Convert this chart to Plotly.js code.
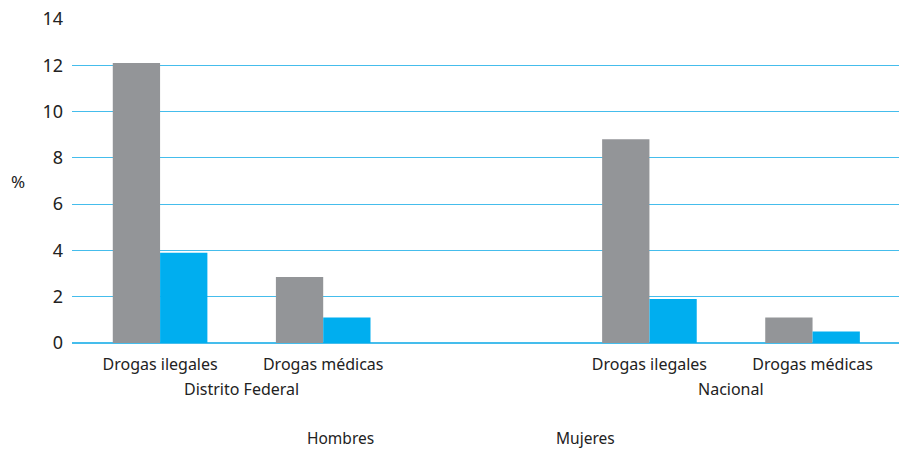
<!DOCTYPE html>
<html>
<head>
<meta charset="utf-8">
<script src="https://cdn.plot.ly/plotly-3.0.1.min.js"></script>
<style>
  html, body { margin: 0; padding: 0; background: #ffffff; }
  #chart { width: 899px; height: 451px; }
</style>
</head>
<body>
<div id="chart"></div>
<script>
// ---- Data ----
const regions = ["Distrito Federal", "Nacional"];
const drugTypes = ["Drogas ilegales", "Drogas médicas"];
const seriesNames = ["Hombres", "Mujeres"];
const hombres = [12.1, 2.85, 8.8, 1.1];   // DF ilegales, DF médicas, Nac ilegales, Nac médicas
const mujeres = [3.9, 1.1, 1.9, 0.5];
const yTicks = [0, 2, 4, 6, 8, 10, 12, 14];

// ---- Build categories (with an empty slot between regions) ----
const keys = [];
const tickText = [];
const gapKey = "gap";
const allKeys = [];
regions.forEach((r, ri) => {
  drugTypes.forEach(d => {
    const k = r + " | " + d;
    keys.push(k);
    tickText.push(d);
    allKeys.push(k);
  });
  if (ri < regions.length - 1) allKeys.push(gapKey);
});

const colors = ["#939598", "#00aeef"];
const values = [hombres, mujeres];

const traces = seriesNames.map((name, i) => ({
  type: "bar",
  name: name,
  x: keys,
  y: values[i],
  marker: { color: colors[i], line: { width: 0 } },
  hoverinfo: "x+y+name"
}));

const font = "'Noto Sans', 'Open Sans', sans-serif";
const plotL = 72, plotW = 899 - 72;

// Region labels centered under each pair
const annotations = [];
regions.forEach((r, ri) => {
  const first = allKeys.indexOf(r + " | " + drugTypes[0]);
  const last = allKeys.indexOf(r + " | " + drugTypes[drugTypes.length - 1]);
  annotations.push({
    x: (first + last) / 2, xref: "x", xanchor: "center",
    y: 0, yref: "paper",
    yshift: -46, yanchor: "middle",
    text: r, showarrow: false,
    font: { family: font, size: 16, color: "#222" }
  });
});
// Legend-like labels (text only, as in the reference)
const legendPx = [340, 585];
seriesNames.forEach((n, i) => {
  annotations.push({
    x: (legendPx[i] - plotL) / plotW, xref: "paper", xanchor: "center",
    y: 0, yref: "paper",
    yshift: -95, yanchor: "middle",
    text: n, showarrow: false,
    font: { family: font, size: 15.5, color: "#222" }
  });
});
// % label
annotations.push({
  x: (18 - plotL) / plotW, xref: "paper", xanchor: "center",
  y: 0.5, yref: "paper", yanchor: "middle",
  text: "%", showarrow: false,
  font: { family: font, size: 17, color: "#222" }
});

const layout = {
  width: 899,
  height: 451,
  margin: { l: plotL, r: 0, t: 19, b: 108, autoexpand: false },
  paper_bgcolor: "#ffffff",
  plot_bgcolor: "#ffffff",
  showlegend: false,
  barmode: "group",
  bargap: 0.42,
  bargroupgap: 0,
  font: { family: font, size: 16, color: "#222" },
  xaxis: {
    type: "category",
    categoryorder: "array",
    categoryarray: allKeys,
    tickvals: keys,
    ticktext: tickText,
    range: [-0.54, 4.53],
    automargin: false,
    showgrid: false,
    zeroline: false,
    showline: false,
    ticks: "",
    ticklabelstandoff: 10,
    tickfont: { family: font, size: 16, color: "#222" }
  },
  yaxis: {
    range: [0, 14],
    tickvals: yTicks,
    automargin: false,
    showgrid: true,
    gridcolor: "#45bdec",
    gridwidth: 1,
    zeroline: true,
    zerolinecolor: "#45bdec",
    zerolinewidth: 1.5,
    showline: false,
    ticks: "",
    ticklabelstandoff: 8,
    tickfont: { family: font, size: 18, color: "#222" },
    fixedrange: true
  },
  annotations: annotations
};

Plotly.newPlot("chart", traces, layout, { displayModeBar: false, staticPlot: true });
</script>
</body>
</html>
